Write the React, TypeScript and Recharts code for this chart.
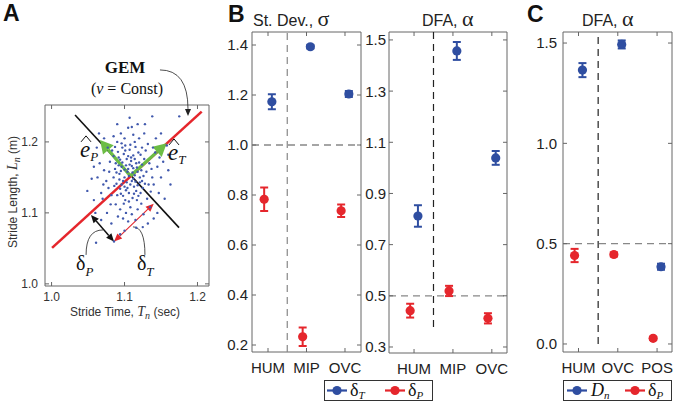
import React from "react";
import {
  ScatterChart,
  Scatter,
  XAxis,
  YAxis,
  ErrorBar,
  ReferenceLine,
  ReferenceArea,
  ReferenceDot,
} from "recharts";

const BLUE = "#2f4ea1";
const RED = "#e5262c";
const GREEN = "#6cbd45";
const DOT = "#4159ad";
const FRAME = "#666";
const SANS = "'Liberation Sans', Arial, sans-serif";
const SERIF = "'Liberation Serif', 'Times New Roman', serif";

// Panel A: stride time (s) vs stride length (m)
const stridePoints: [number, number][] = [
  [1.1, 1.15], [1.105, 1.162], [1.112, 1.148], [1.097, 1.171], [1.118, 1.158], [1.108, 1.14],
  [1.093, 1.155], [1.114, 1.176], [1.102, 1.132], [1.121, 1.143], [1.099, 1.183], [1.11, 1.166],
  [1.106, 1.152], [1.089, 1.141], [1.116, 1.131], [1.095, 1.127], [1.124, 1.168], [1.103, 1.176],
  [1.111, 1.121], [1.087, 1.162], [1.119, 1.185], [1.098, 1.145], [1.107, 1.189], [1.126, 1.152],
  [1.092, 1.178], [1.113, 1.137], [1.101, 1.118], [1.117, 1.164], [1.094, 1.134], [1.109, 1.173],
  [1.122, 1.128], [1.085, 1.15], [1.104, 1.158], [1.115, 1.193], [1.096, 1.165], [1.128, 1.141],
  [1.1, 1.137], [1.112, 1.181], [1.09, 1.125], [1.12, 1.171], [1.106, 1.128], [1.097, 1.192],
  [1.114, 1.153], [1.088, 1.17], [1.123, 1.16], [1.102, 1.167], [1.11, 1.145], [1.093, 1.147],
  [1.118, 1.139], [1.105, 1.18], [1.099, 1.113], [1.127, 1.176], [1.091, 1.186], [1.113, 1.127],
  [1.108, 1.196], [1.095, 1.159], [1.121, 1.15], [1.103, 1.143], [1.116, 1.17], [1.086, 1.138],
  [1.111, 1.157], [1.098, 1.124], [1.125, 1.135], [1.107, 1.168], [1.094, 1.175], [1.119, 1.124],
  [1.101, 1.188], [1.115, 1.144], [1.089, 1.157], [1.13, 1.158], [1.104, 1.135], [1.109, 1.178],
  [1.096, 1.14], [1.122, 1.182], [1.1, 1.161], [1.117, 1.118], [1.092, 1.167], [1.112, 1.163],
  [1.106, 1.116], [1.124, 1.145],
  [1.075, 1.145], [1.068, 1.128], [1.08, 1.172], [1.072, 1.16], [1.063, 1.15], [1.078, 1.135],
  [1.083, 1.188], [1.07, 1.12], [1.081, 1.112], [1.066, 1.17], [1.134, 1.17], [1.138, 1.15],
  [1.142, 1.185], [1.136, 1.13], [1.145, 1.165], [1.132, 1.197], [1.14, 1.14], [1.148, 1.178],
  [1.131, 1.12], [1.143, 1.205], [1.1, 1.205], [1.112, 1.21], [1.09, 1.2], [1.12, 1.205],
  [1.105, 1.22], [1.095, 1.212], [1.127, 1.212], [1.118, 1.225], [1.085, 1.208], [1.102, 1.1],
  [1.11, 1.098], [1.094, 1.105], [1.118, 1.105], [1.123, 1.113], [1.088, 1.112], [1.105, 1.088],
  [1.098, 1.092], [1.115, 1.09], [1.126, 1.098], [1.091, 1.095], [1.135, 1.108], [1.076, 1.1],
  [1.082, 1.125], [1.077, 1.192], [1.15, 1.15], [1.153, 1.172], [1.147, 1.128], [1.139, 1.192],
  [1.129, 1.188], [1.085, 1.18], [1.079, 1.158], [1.071, 1.14], [1.133, 1.14], [1.137, 1.162],
  [1.108, 1.108], [1.114, 1.2], [1.096, 1.198], [1.124, 1.192], [1.087, 1.193], [1.101, 1.195],
  [1.049, 1.131], [1.055, 1.148], [1.058, 1.118], [1.062, 1.192], [1.06, 1.1], [1.068, 1.09],
  [1.072, 1.205], [1.065, 1.212], [1.107, 1.234], [1.11, 1.221], [1.138, 1.236],
  [1.175, 1.236], [1.16, 1.16], [1.163, 1.14], [1.158, 1.195], [1.155, 1.12], [1.145, 1.1],
  [1.132, 1.085], [1.125, 1.08], [1.1, 1.075], [1.082, 1.085], [1.128, 1.225], [1.15, 1.212],
  [1.09, 1.225], [1.094, 1.07], [1.14, 1.092], [1.058, 1.165], [1.16, 1.182], [1.061, 1.058],
  [1.116, 1.079], [1.0856, 1.0596],
];
const strideTicks = [1.0, 1.1, 1.2];

// Panel B: group means and error bars
const groupsB = ["HUM", "MIP", "OVC"];
const sdDeltaT = [1.173, 1.393, 1.204];
const sdDeltaTErr = [0.03, 0.007, 0.012];
const sdDeltaP = [0.783, 0.233, 0.737];
const sdDeltaPErr = [0.047, 0.037, 0.025];
const sdTicks = [0.2, 0.4, 0.6, 0.8, 1.0, 1.2, 1.4];

const dfaDeltaT = [0.812, 1.457, 1.039];
const dfaDeltaTErr = [0.042, 0.035, 0.027];
const dfaDeltaP = [0.442, 0.519, 0.412];
const dfaDeltaPErr = [0.027, 0.02, 0.02];
const dfaTicks = [0.3, 0.5, 0.7, 0.9, 1.1, 1.3, 1.5];

// Panel C
const groupsC = ["HUM", "OVC", "POS"];
const dfaDn = [1.365, 1.493, 0.385];
const dfaDnErr = [0.035, 0.02, 0.015];
const dfaCDeltaP = [0.441, 0.446, 0.028];
const dfaCDeltaPErr = [0.033, 0.01, 0.008];
const dfaCTicks = [0.0, 0.5, 1.0, 1.5];

const toPoints = (vals: number[], errs: number[], off: number) =>
  vals.map((v, i) => ({ x: i + 1 + off, y: v, err: errs[i] }));

function head(x1: number, y1: number, x2: number, y2: number, len: number, half: number) {
  const dx = x2 - x1;
  const dy = y2 - y1;
  const d = Math.hypot(dx, dy) || 1;
  const ux = dx / d;
  const uy = dy / d;
  const bx = x2 - ux * len;
  const by = y2 - uy * len;
  return {
    pts: `${x2},${y2} ${bx - uy * half},${by + ux * half} ${bx + uy * half},${by - ux * half}`,
    bx,
    by,
  };
}

const arrowShape = (color: string, sw: number, len: number, half: number, both: boolean) => (p: any) => {
  const { x1, y1, x2, y2 } = p;
  const e = head(x1, y1, x2, y2, len, half);
  const s = both ? head(x2, y2, x1, y1, len, half) : null;
  return (
    <g>
      <line x1={s ? s.bx : x1} y1={s ? s.by : y1} x2={e.bx} y2={e.by} stroke={color} strokeWidth={sw} />
      <polygon points={e.pts} fill={color} />
      {s && <polygon points={s.pts} fill={color} />}
    </g>
  );
};

const plainLine = (color: string, sw: number) => (p: any) => (
  <line x1={p.x1} y1={p.y1} x2={p.x2} y2={p.y2} stroke={color} strokeWidth={sw} />
);

// curved thin connector; 'vh' leaves vertically, 'hv' leaves horizontally
const curveShape = (bend: "vh" | "hv", arrow: boolean) => (p: any) => {
  const { x1, y1, x2, y2 } = p;
  const cx = bend === "vh" ? x1 : x2;
  const cy = bend === "vh" ? y2 : y1;
  const h = arrow ? head(cx, cy, x2, y2, 7, 3) : null;
  return (
    <g>
      <path
        d={`M${x1},${y1} Q${cx},${cy} ${h ? h.bx : x2},${h ? h.by : y2}`}
        fill="none"
        stroke="#222"
        strokeWidth={0.8}
      />
      {h && <polygon points={h.pts} fill="#222" />}
    </g>
  );
};

const hatLabel = (sub: string) => (p: any) => (
  <g fontFamily={SERIF} fontStyle="italic" fill="#111">
    <path d={`M${p.cx + 1},${p.cy - 15} L${p.cx + 6},${p.cy - 21} L${p.cx + 11},${p.cy - 15}`} fill="none" stroke="#111" strokeWidth={1} />
    <text x={p.cx} y={p.cy} fontSize={23}>
      e
      <tspan fontSize={13} dy={4}>{sub}</tspan>
    </text>
  </g>
);

const deltaLabel = (sub: string) => (p: any) => (
  <text x={p.cx} y={p.cy} fontFamily={SERIF} fontSize={20} fill="#111">
    δ
    <tspan fontSize={13} fontStyle="italic" dy={6}>{sub}</tspan>
  </text>
);

const PANEL_A = { x: 45, y: 105, w: 164, h: 181 };
const A_X: [number, number] = [0.991, 1.2158];
const A_Y: [number, number] = [0.997, 1.252];

function StridePanel() {
  const yW = 40;
  const xH = 20;
  const margin = { top: PANEL_A.y, left: PANEL_A.x - yW, right: 230 - PANEL_A.x - PANEL_A.w, bottom: 408 - PANEL_A.y - PANEL_A.h - xH };
  const data = stridePoints.map(([x, y]) => ({ x, y }));
  const YTick = (p: any) => {
    const edge = p.x + 7;
    return (
      <g>
        <line x1={edge} x2={edge + 4} y1={p.y} y2={p.y} stroke={FRAME} />
        <line x1={edge + PANEL_A.w - 4} x2={edge + PANEL_A.w} y1={p.y} y2={p.y} stroke={FRAME} />
        <text x={p.x} y={p.y} dy="0.36em" textAnchor="end" fontFamily={SANS} fontSize={12} fill="#333">
          {p.payload.value.toFixed(1)}
        </text>
      </g>
    );
  };
  const XTick = (p: any) => {
    const edge = p.y - 6;
    return (
      <g>
        <line x1={p.x} x2={p.x} y1={edge} y2={edge - 4} stroke={FRAME} />
        <line x1={p.x} x2={p.x} y1={PANEL_A.y} y2={PANEL_A.y + 4} stroke={FRAME} />
        <text x={p.x} y={p.y} dy="0.75em" textAnchor="middle" fontFamily={SANS} fontSize={12} fill="#333">
          {p.payload.value.toFixed(1)}
        </text>
      </g>
    );
  };
  return (
    <div style={{ position: "absolute", left: 0, top: 0 }}>
      <ScatterChart width={230} height={408} margin={margin}>
        <XAxis type="number" dataKey="x" domain={A_X} ticks={strideTicks} interval={0} height={xH} tickSize={0} tickMargin={6} axisLine={false} tick={XTick} allowDataOverflow />
        <YAxis type="number" dataKey="y" domain={A_Y} ticks={strideTicks} interval={0} width={yW} tickSize={0} tickMargin={7} axisLine={false} tick={YTick} allowDataOverflow />
        <ReferenceArea x1={A_X[0]} x2={A_X[1]} y1={A_Y[0]} y2={A_Y[1]} fill="#fff" fillOpacity={0} stroke={FRAME} strokeWidth={1} ifOverflow="visible" />
        <Scatter
          data={data}
          isAnimationActive={false}
          shape={(p: any) => <circle cx={p.cx} cy={p.cy} r={1.2} fill={DOT} />}
        />
        <ReferenceLine segment={[{ x: 1.0322, y: 1.238 }, { x: 1.1747, y: 1.0793 }]} ifOverflow="visible" shape={plainLine("#111", 1.6)} />
        <ReferenceLine segment={[{ x: 1.0007, y: 1.0507 }, { x: 1.2058, y: 1.2427 }]} ifOverflow="visible" shape={plainLine(RED, 2.6)} />
        <ReferenceLine segment={[{ x: 1.108, y: 1.152 }, { x: 1.0664, y: 1.2028 }]} ifOverflow="visible" shape={arrowShape(GREEN, 3.2, 13, 7, false)} />
        <ReferenceLine segment={[{ x: 1.108, y: 1.152 }, { x: 1.1578, y: 1.1982 }]} ifOverflow="visible" shape={arrowShape(GREEN, 3.2, 13, 7, false)} />
        <ReferenceLine segment={[{ x: 1.0856, y: 1.0596 }, { x: 1.054, y: 1.097 }]} ifOverflow="visible" shape={arrowShape("#111", 1.5, 8, 3.5, true)} />
        <ReferenceLine segment={[{ x: 1.0856, y: 1.0596 }, { x: 1.14, y: 1.113 }]} ifOverflow="visible" shape={arrowShape(RED, 1.1, 8, 3.5, true)} />
        <ReferenceLine segment={[{ x: 1.0473, y: 1.0408 }, { x: 1.0705, y: 1.076 }]} ifOverflow="visible" shape={curveShape("vh", false)} />
        <ReferenceLine segment={[{ x: 1.128, y: 1.0408 }, { x: 1.1116, y: 1.0803 }]} ifOverflow="visible" shape={curveShape("vh", false)} />
        <ReferenceLine segment={[{ x: 1.1486, y: 1.3014 }, { x: 1.187, y: 1.2366 }]} ifOverflow="visible" shape={curveShape("hv", true)} />
        <ReferenceDot x={1.039} y={1.1789} ifOverflow="visible" shape={hatLabel("P")} />
        <ReferenceDot x={1.1596} y={1.1746} ifOverflow="visible" shape={hatLabel("T")} />
        <ReferenceDot x={1.0336} y={1.0197} ifOverflow="visible" shape={deltaLabel("P")} />
        <ReferenceDot x={1.117} y={1.0197} ifOverflow="visible" shape={deltaLabel("T")} />
        <ReferenceDot
          x={1.1007}
          y={1.297}
          ifOverflow="visible"
          shape={(p: any) => (
            <text x={p.cx} y={p.cy} textAnchor="middle" fontFamily={SERIF} fontWeight="bold" fontSize={17} fill="#111">
              GEM
            </text>
          )}
        />
        <ReferenceDot
          x={1.1034}
          y={1.2676}
          ifOverflow="visible"
          shape={(p: any) => (
            <text x={p.cx} y={p.cy} textAnchor="middle" fontFamily={SERIF} fontSize={16} fill="#111">
              (<tspan fontStyle="italic">v</tspan> = Const)
            </text>
          )}
        />
      </ScatterChart>
    </div>
  );
}

function DotPanel(props: any) {
  const { box, xDomain, yDomain, yTicks, cats, blue, red, hLine, vLine, vColor, labelGap } = props;
  const yW = 40;
  const xH = 30;
  const width = yW + box.w + 6;
  const margin = { top: box.y, left: 0, right: 6, bottom: 408 - box.y - box.h - xH };
  const YTick = (p: any) => {
    const edge = p.x + labelGap;
    return (
      <g>
        <line x1={edge} x2={edge + 4} y1={p.y} y2={p.y} stroke={FRAME} />
        <line x1={edge + box.w - 4} x2={edge + box.w} y1={p.y} y2={p.y} stroke={FRAME} />
        <text x={p.x} y={p.y} dy="0.36em" textAnchor="end" fontFamily={SANS} fontSize={15} fill="#222">
          {p.payload.value.toFixed(1)}
        </text>
      </g>
    );
  };
  const XTick = (p: any) => {
    const edge = p.y;
    return (
      <g>
        <line x1={p.x} x2={p.x} y1={edge} y2={edge - 4} stroke={FRAME} />
        <line x1={p.x} x2={p.x} y1={box.y} y2={box.y + 4} stroke={FRAME} />
        <text x={p.x} y={edge + 21} textAnchor="middle" fontFamily={SANS} fontSize={15} fill="#222">
          {cats[p.payload.value - 1]}
        </text>
      </g>
    );
  };
  const dot = (color: string) => (p: any) => <circle cx={p.cx} cy={p.cy} r={4.6} fill={color} />;
  return (
    <div style={{ position: "absolute", left: box.x - yW, top: 0 }}>
      <ScatterChart width={width} height={408} margin={margin}>
        <XAxis type="number" dataKey="x" domain={xDomain} ticks={[1, 2, 3]} interval={0} height={xH} tickSize={0} tickMargin={0} axisLine={false} tick={XTick} allowDataOverflow />
        <YAxis type="number" dataKey="y" domain={yDomain} ticks={yTicks} interval={0} width={yW} tickSize={0} tickMargin={labelGap} axisLine={false} tick={YTick} allowDataOverflow />
        <ReferenceArea x1={xDomain[0]} x2={xDomain[1]} y1={yDomain[0]} y2={yDomain[1]} fill="#fff" fillOpacity={0} stroke={FRAME} strokeWidth={1} ifOverflow="visible" />
        <ReferenceLine y={hLine} stroke="#888" strokeWidth={1.3} strokeDasharray="7 5" />
        <ReferenceLine
          segment={[{ x: 1.5, y: vLine[0] }, { x: 1.5, y: vLine[1] }]}
          stroke={vColor}
          strokeWidth={1.2}
          strokeDasharray="7 5"
          ifOverflow="visible"
        />
        <Scatter data={red} isAnimationActive={false} shape={dot(RED)}>
          <ErrorBar dataKey="err" direction="y" width={4} stroke={RED} strokeWidth={2} />
        </Scatter>
        <Scatter data={blue} isAnimationActive={false} shape={dot(BLUE)}>
          <ErrorBar dataKey="err" direction="y" width={4} stroke={BLUE} strokeWidth={2} />
        </Scatter>
      </ScatterChart>
    </div>
  );
}

function LegendItem({ x, color }: { x: number; color: string }) {
  return (
    <g>
      <line x1={x} x2={x + 20} y1={390.5} y2={390.5} stroke={color} strokeWidth={2.2} />
      <circle cx={x + 10} cy={390.5} r={4.6} fill={color} />
    </g>
  );
}

function Overlay() {
  return (
    <svg width={675} height={408} style={{ position: "absolute", left: 0, top: 0, pointerEvents: "none" }}>
      <g fontFamily={SANS} fontWeight="bold" fontSize={23} fill="#111">
        <text x={3} y={21}>A</text>
        <text x={228} y={22}>B</text>
        <text x={527} y={22}>C</text>
      </g>
      <g fontFamily={SANS} fontSize={16} fill="#222">
        <text x={253} y={26}>
          St. Dev., <tspan fontFamily={SERIF} fontSize={22}>σ</tspan>
        </text>
        <text x={422} y={26}>
          DFA, <tspan fontFamily={SERIF} fontSize={22}>α</tspan>
        </text>
        <text x={582} y={26}>
          DFA, <tspan fontFamily={SERIF} fontSize={22}>α</tspan>
        </text>
      </g>
      <g fontFamily={SANS} fontSize={12} fill="#333">
        <text x={125} y={316} textAnchor="middle">
          Stride Time, <tspan fontFamily={SERIF} fontStyle="italic" fontSize={14}>T</tspan>
          <tspan fontFamily={SERIF} fontStyle="italic" fontSize={10} dy={3}>n</tspan>
          <tspan dy={-3}> (sec)</tspan>
        </text>
        <text x={17} y={192} textAnchor="middle" transform="rotate(-90 17 192)">
          Stride Length, <tspan fontFamily={SERIF} fontStyle="italic" fontSize={14}>L</tspan>
          <tspan fontFamily={SERIF} fontStyle="italic" fontSize={10} dy={3}>n</tspan>
          <tspan dy={-3}> (m)</tspan>
        </text>
      </g>
      <rect x={324.5} y={380.5} width={108} height={20} fill="#fff" stroke="#333" />
      <LegendItem x={327} color={BLUE} />
      <text x={350} y={396} fontFamily={SERIF} fontSize={18} fill="#111">
        δ<tspan fontSize={11} fontStyle="italic" dy={3}>T</tspan>
      </text>
      <LegendItem x={385} color={RED} />
      <text x={408} y={396} fontFamily={SERIF} fontSize={18} fill="#111">
        δ<tspan fontSize={11} fontStyle="italic" dy={3}>P</tspan>
      </text>
      <rect x={563.5} y={380.5} width={108} height={20} fill="#fff" stroke="#333" />
      <LegendItem x={567} color={BLUE} />
      <text x={591} y={396} fontFamily={SERIF} fontStyle="italic" fontSize={18} fill="#111">
        D<tspan fontSize={11} dy={3}>n</tspan>
      </text>
      <LegendItem x={625} color={RED} />
      <text x={648} y={396} fontFamily={SERIF} fontSize={18} fill="#111">
        δ<tspan fontSize={11} fontStyle="italic" dy={3}>P</tspan>
      </text>
    </svg>
  );
}

export default function App() {
  return (
    <div style={{ position: "absolute", left: 0, top: 0, width: 675, height: 408, background: "#fff", overflow: "hidden" }}>
      <StridePanel />
      <DotPanel
        box={{ x: 252, y: 32, w: 109, h: 320 }}
        xDomain={[0.584, 3.416]}
        yDomain={[0.172, 1.452]}
        yTicks={sdTicks}
        cats={groupsB}
        blue={toPoints(sdDeltaT, sdDeltaTErr, 0.1)}
        red={toPoints(sdDeltaP, sdDeltaPErr, -0.1)}
        hLine={1.0}
        vLine={[0.172, 1.452]}
        vColor="#888"
        labelGap={4}
      />
      <DotPanel
        box={{ x: 389, y: 32, w: 118, h: 321 }}
        xDomain={[0.356, 3.39]}
        yDomain={[0.2765, 1.531]}
        yTicks={dfaTicks}
        cats={groupsB}
        blue={toPoints(dfaDeltaT, dfaDeltaTErr, 0.1)}
        red={toPoints(dfaDeltaP, dfaDeltaPErr, -0.1)}
        hLine={0.5}
        vLine={[0.378, 1.531]}
        vColor="#222"
        labelGap={3}
      />
      <DotPanel
        box={{ x: 563, y: 32, w: 109, h: 320 }}
        xDomain={[0.605, 3.38]}
        yDomain={[-0.04, 1.555]}
        yTicks={dfaCTicks}
        cats={groupsC}
        blue={toPoints(dfaDn, dfaDnErr, 0.1)}
        red={toPoints(dfaCDeltaP, dfaCDeltaPErr, -0.1)}
        hLine={0.5}
        vLine={[0.0, 1.555]}
        vColor="#222"
        labelGap={6}
      />
      <Overlay />
    </div>
  );
}
